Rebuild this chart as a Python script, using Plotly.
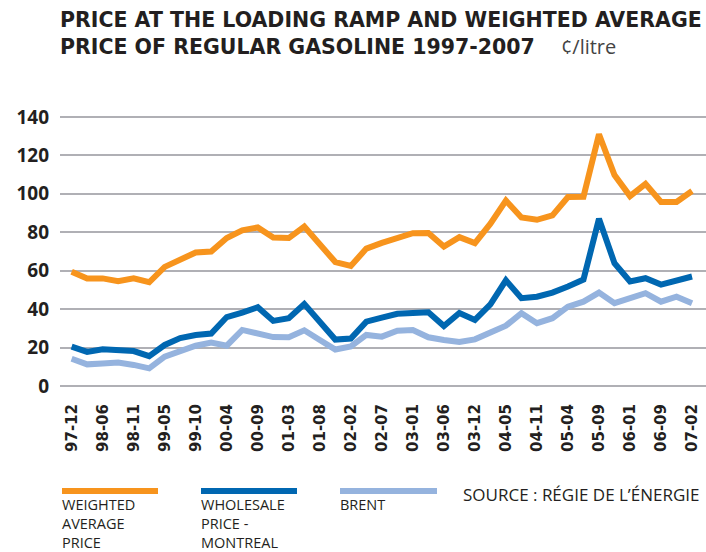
import plotly.graph_objects as go

categories = [
    "97-12", "98-03", "98-06", "98-09", "98-11", "99-02", "99-05", "99-08",
    "99-10", "00-01", "00-04", "00-07", "00-09", "00-12", "01-03", "01-05",
    "01-08", "01-11", "02-02", "02-05", "02-07", "02-10", "03-01", "03-03",
    "03-06", "03-09", "03-12", "04-02", "04-05", "04-08", "04-11", "05-02",
    "05-04", "05-07", "05-09", "05-11", "06-01", "06-05", "06-09", "06-12",
    "07-02",
]
tick_labels = categories[::2]

weighted_average = [
    59.5, 56.0, 56.0, 54.5, 56.0, 54.0, 62.0, 65.7, 69.5, 70.0,
    77.0, 81.0, 82.5, 77.3, 77.0, 83.0, 73.5, 64.5, 62.5, 71.5,
    74.5, 77.0, 79.5, 79.6, 72.6, 77.5, 74.4, 84.5, 96.5, 87.7,
    86.5, 88.8, 98.3, 98.5, 131.0, 109.8, 98.8, 105.2, 95.8, 95.8,
    101.5,
]
wholesale_montreal = [
    20.5, 17.8, 19.1, 18.6, 18.2, 15.6, 21.4, 25.0, 26.6, 27.3,
    35.9, 38.2, 41.0, 33.9, 35.3, 42.7, 33.5, 24.2, 24.7, 33.5,
    35.6, 37.6, 38.0, 38.4, 31.2, 38.0, 34.4, 42.5, 55.0, 45.7,
    46.5, 48.6, 51.8, 55.4, 87.0, 63.9, 54.4, 56.1, 52.8, 55.0,
    57.0,
]
brent = [
    14.2, 11.3, 11.8, 12.3, 11.0, 9.2, 15.3, 18.5, 21.0, 22.6,
    21.0, 29.2, 27.5, 25.5, 25.4, 29.0, 24.0, 19.0, 20.6, 26.6,
    25.7, 28.8, 29.2, 25.4, 24.0, 22.9, 24.3, 27.8, 31.4, 37.9,
    32.7, 35.3, 41.3, 43.9, 48.6, 43.1, 45.3, 48.3, 43.9, 46.5,
    43.1,
]

series_names = ["WEIGHTED<br>AVERAGE<br>PRICE", "WHOLESALE<br>PRICE -<br>MONTREAL", "BRENT"]
series_values = [weighted_average, wholesale_montreal, brent]
colors = ["#F7941D", "#0067B1", "#95B3DE"]

W, H = 706, 552
ML, MR, MT, MB = 60, 0, 115, 164
PW, PH = W - ML - MR, H - MT - MB


def px_x(p):
    return (p - ML) / PW


def px_y(p):
    return (H - MB - p) / PH


fig = go.Figure()
for name, vals, col in zip(series_names, series_values, colors):
    fig.add_trace(go.Scatter(
        x=categories, y=vals, mode="lines", name=name,
        line=dict(color=col, width=6), showlegend=False,
    ))

text_col = "#231F20"

fig.update_layout(
    width=W, height=H,
    margin=dict(l=ML, r=MR, t=MT, b=MB),
    paper_bgcolor="white", plot_bgcolor="white",
    xaxis=dict(
        type="category",
        range=[-0.75, 40.9],
        tickmode="array", tickvals=tick_labels, ticktext=tick_labels,
        tickangle=-90,
        tickfont=dict(family="DejaVu Sans", size=15, color=text_col, weight="bold"),
        showgrid=False, showline=False, ticks="",
        ticklabelstandoff=12,
    ),
    yaxis=dict(
        range=[-1, 141],
        tickmode="array", tickvals=[0, 20, 40, 60, 80, 100, 120, 140],
        tickfont=dict(family="Open Sans", size=19, color=text_col, weight="bold"),
        showgrid=True, gridcolor="#B0B0B5", gridwidth=1.6,
        zeroline=False, showline=False, ticks="",
        ticklabelstandoff=10,
    ),
)

# title
fig.add_annotation(
    xref="paper", yref="paper", x=px_x(58), y=px_y(6),
    xanchor="left", yanchor="top", align="left", showarrow=False,
    text="<b>PRICE AT THE LOADING RAMP AND WEIGHTED AVERAGE<br>"
         "PRICE OF REGULAR GASOLINE 1997-2007</b>"
         "    <span style='font-size:20px;font-family:Open Sans;color:#444444'>¢/litre</span>",
    font=dict(family="DejaVu Sans", size=20.5, color=text_col),
)

# custom legend (swatch above, text below)
swatch_x = [(62, 158), (201, 297), (340, 437)]
for (x0, x1), col, name in zip(swatch_x, colors, series_names):
    fig.add_shape(type="line", xref="paper", yref="paper",
                  x0=px_x(x0), x1=px_x(x1), y0=px_y(491), y1=px_y(491),
                  line=dict(color=col, width=6))
    fig.add_annotation(xref="paper", yref="paper", x=px_x(x0 - 2), y=px_y(493),
                       xanchor="left", yanchor="top", align="left",
                       text=name, showarrow=False,
                       font=dict(family="Open Sans", size=14.5, color=text_col))

fig.add_annotation(xref="paper", yref="paper", x=px_x(461), y=px_y(481),
                   xanchor="left", yanchor="top", align="left",
                   text="SOURCE : RÉGIE DE L’ÉNERGIE", showarrow=False,
                   font=dict(family="Open Sans", size=17, color=text_col))

fig.write_html("out.html", config={"displayModeBar": False},
               post_script="document.body.style.margin='0';")
